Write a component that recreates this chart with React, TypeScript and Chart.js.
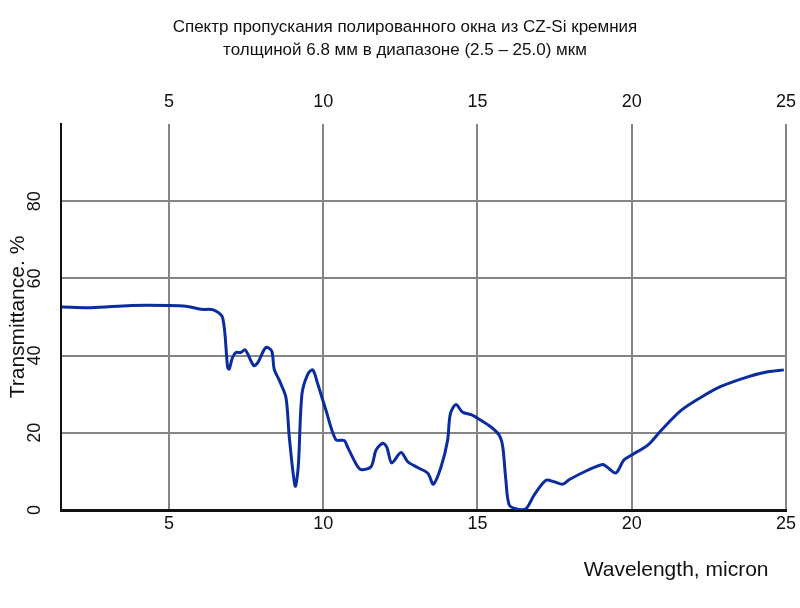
import React, { useEffect, useRef } from "react";
import { Chart, registerables } from "chart.js";

Chart.register(...registerables);

const titleLines = [
  "Спектр пропускания полированного окна из CZ-Si кремния",
  "толщиной 6.8 мм в диапазоне (2.5 – 25.0) мкм",
];
const xTitle = "Wavelength, micron";
const yTitle = "Transmittance. %";
const xTickValues = [5, 10, 15, 20, 25];
const yTickValues = [0, 20, 40, 60, 80];

const wavelength = [
  1.53, 2.47, 3.77, 5.0, 5.55, 6.04, 6.46, 6.74, 6.9, 6.95, 7.06, 7.17, 7.33, 7.47, 7.75, 7.88,
  8.14, 8.33, 8.41, 8.58, 8.79, 8.9, 9.09, 9.19, 9.31, 9.5, 9.66, 9.82, 10.09, 10.41, 10.68,
  10.79, 11.06, 11.22, 11.55, 11.71, 11.93, 12.06, 12.22, 12.52, 12.74, 13.06, 13.39, 13.57,
  13.82, 14.03, 14.12, 14.3, 14.52, 14.79, 15.04, 15.44, 15.71, 15.82, 15.92, 16.03, 16.3,
  16.57, 16.84, 17.22, 17.49, 17.76, 17.98, 18.57, 19.06, 19.22, 19.49, 19.74, 20.03, 20.52,
  20.95, 21.6, 22.25, 22.89, 23.76, 24.41, 24.93,
];
const transmittance = [
  52.6, 52.4, 53.0, 53.0, 52.8, 52.0, 51.8, 49.8, 37.0, 36.5, 39.5, 40.8, 40.8, 41.5, 37.4, 38.2,
  42.1, 41.2, 36.5, 33.5, 29.2, 18.9, 6.2, 11.2, 30.0, 35.2, 36.3, 32.7, 25.8, 18.2, 18.0,
  16.3, 12.0, 10.5, 11.2, 15.5, 17.3, 16.3, 12.2, 14.9, 12.5, 11.0, 9.5, 6.7,
  11.2, 18.0, 24.9, 27.3, 25.3, 24.7, 23.6, 21.5, 19.3, 16.3, 7.7, 1.3, 0.2,
  0.3, 3.9, 7.7, 7.3, 6.7, 7.9, 10.3, 11.8, 11.0, 9.6, 12.9, 14.4, 16.8,
  20.6, 25.8, 29.2, 32.0, 34.5, 35.8, 36.3,
];

const FONT = "'Liberation Sans', Arial, sans-serif";

export default function App() {
  const ref = useRef<HTMLCanvasElement | null>(null);

  useEffect(() => {
    if (!ref.current) return;
    const points = wavelength.map((x, i) => ({ x, y: transmittance[i] }));
    const noSidePad = (s: any) => {
      s.paddingLeft = 0;
      s.paddingRight = 0;
    };
    const chart = new Chart(ref.current, {
      type: "line",
      data: {
        datasets: [
          {
            data: points,
            borderColor: "#0b2c9e",
            borderWidth: 3,
            pointRadius: 0,
            tension: 0.3,
            fill: false,
            xAxisID: "x",
            yAxisID: "y",
          },
        ],
      },
      options: {
        animation: false,
        responsive: false,
        devicePixelRatio: 1,
        layout: { padding: { left: 24, right: 14, top: 0, bottom: 0 } },
        plugins: {
          legend: { display: false },
          tooltip: { enabled: false },
          title: {
            display: true,
            text: titleLines,
            color: "#111",
            font: { family: FONT, size: 17, weight: "normal", lineHeight: 1.4 },
            padding: { top: 15.1, bottom: 0 },
          },
        },
        scales: {
          x: {
            type: "linear",
            position: "bottom",
            min: 1.5,
            max: 25,
            afterBuildTicks: (s: any) => {
              s.ticks = xTickValues.map((v) => ({ value: v }));
            },
            afterFit: (s: any) => {
              s.height = 98;
              noSidePad(s);
            },
            grid: { color: "#858585", lineWidth: 2, drawTicks: false },
            border: { color: "#111", width: 3 },
            ticks: {
              color: "#111",
              padding: 3,
              font: { family: FONT, size: 18 },
              maxRotation: 0,
            },
            title: {
              display: true,
              text: xTitle + "\u00a0\u00a0\u00a0",
              align: "end",
              color: "#111",
              font: { family: FONT, size: 21 },
              padding: { top: 0, bottom: 25 },
            },
          },
          x2: {
            type: "linear",
            position: "top",
            min: 1.5,
            max: 25,
            afterBuildTicks: (s: any) => {
              s.ticks = xTickValues.map((v) => ({ value: v }));
            },
            afterFit: (s: any) => {
              s.height = 124 - (15.1 + 2 * 17 * 1.4);
              noSidePad(s);
            },
            grid: { display: false, drawTicks: false },
            border: { display: false },
            ticks: {
              color: "#111",
              padding: 11,
              font: { family: FONT, size: 18 },
              maxRotation: 0,
            },
          },
          y: {
            type: "linear",
            position: "left",
            min: 0,
            max: 100,
            afterBuildTicks: (s: any) => {
              s.ticks = yTickValues.map((v) => ({ value: v }));
            },
            afterFit: (s: any) => {
              s.width = 37;
            },
            grid: { color: "#858585", lineWidth: 2, drawTicks: false },
            border: { color: "#111", width: 2 },
            ticks: {
              color: "#111",
              padding: 15.5,
              crossAlign: "center",
              minRotation: 90,
              maxRotation: 90,
              font: { family: FONT, size: 18 },
            },
            title: {
              display: true,
              text: yTitle,
              color: "#111",
              font: { family: FONT, size: 21 },
              padding: { top: -18, bottom: 0 },
            },
          },
        },
      },
    });
    return () => chart.destroy();
  }, []);

  return (
    <div style={{ position: "fixed", left: 0, top: 0, width: 800, height: 608, background: "#fff" }}>
      <canvas ref={ref} width={800} height={608} style={{ width: 800, height: 608 }} />
    </div>
  );
}
